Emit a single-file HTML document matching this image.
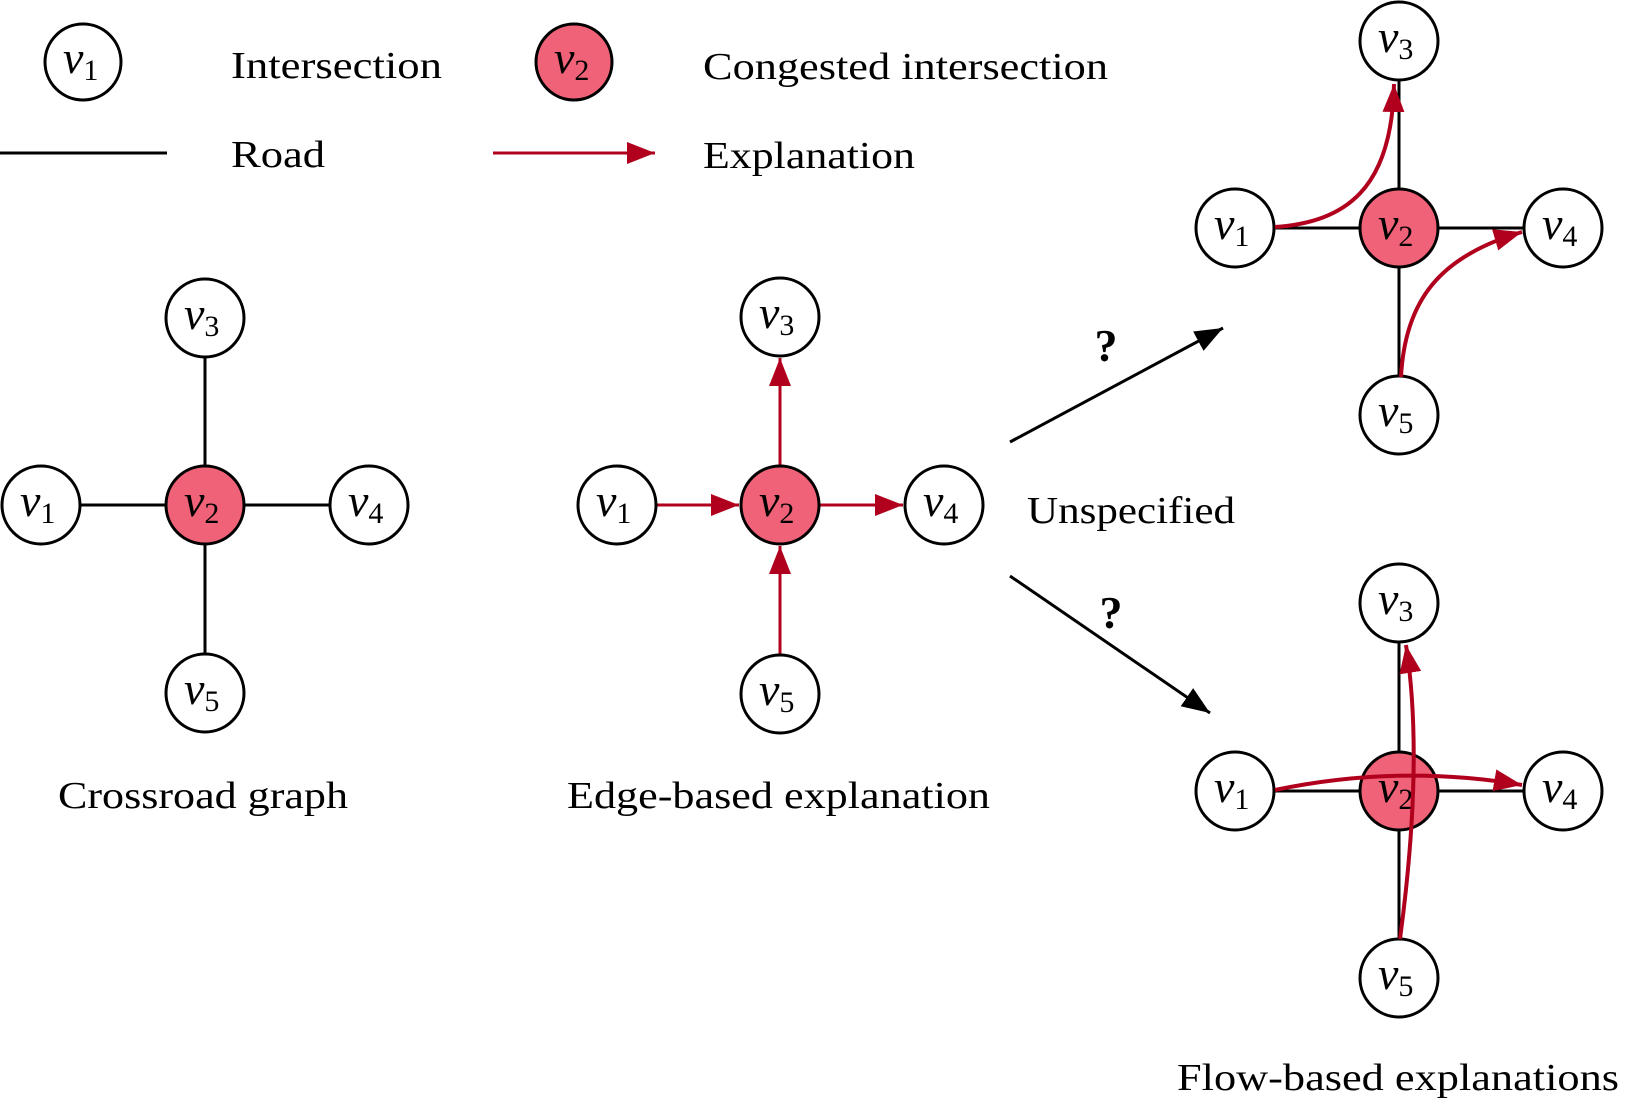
<!DOCTYPE html>
<html><head><meta charset="utf-8"><style>
html,body{margin:0;padding:0;background:#fff;}
svg{display:block;}
text{font-family:"Liberation Serif",serif;fill:#000;}
.lab{font-size:38px;}
.v{font-style:italic;font-size:46px;}
.s{font-size:30px;}
</style></head><body>
<svg width="1636" height="1116" viewBox="0 0 1636 1116" xmlns="http://www.w3.org/2000/svg">
<defs>
<marker id="ra" markerUnits="userSpaceOnUse" markerWidth="30" markerHeight="24" refX="28" refY="11" orient="auto"><path d="M0,0 L28,11 L0,22 Z" fill="#B0001E"/></marker>
<marker id="ba" markerUnits="userSpaceOnUse" markerWidth="30" markerHeight="24" refX="28" refY="11" orient="auto"><path d="M0,0 L28,11 L0,22 Z" fill="#000"/></marker>
</defs>

<!-- Legend -->
<circle cx="83" cy="62" r="38" fill="#fff" stroke="#000" stroke-width="3"/>
<text x="63" y="73"><tspan class="v">v</tspan><tspan class="s" dy="7">1</tspan></text>
<text class="lab" x="231" y="78" textLength="211" lengthAdjust="spacingAndGlyphs">Intersection</text>
<circle cx="574" cy="62" r="38" fill="#F06277" stroke="#000" stroke-width="3"/>
<text x="554" y="73"><tspan class="v">v</tspan><tspan class="s" dy="7">2</tspan></text>
<text class="lab" x="703" y="79" textLength="405" lengthAdjust="spacingAndGlyphs">Congested intersection</text>
<line x1="0" y1="153" x2="167" y2="153" stroke="#000" stroke-width="3"/>
<text class="lab" x="231" y="167" textLength="94" lengthAdjust="spacingAndGlyphs">Road</text>
<line x1="493" y1="153" x2="655" y2="153" stroke="#B0001E" stroke-width="3" marker-end="url(#ra)"/>
<text class="lab" x="703" y="168" textLength="212" lengthAdjust="spacingAndGlyphs">Explanation</text>

<!-- Crossroad graph -->
<g stroke="#000" stroke-width="3">
<line x1="205" y1="318" x2="205" y2="693"/>
<line x1="41" y1="505" x2="369" y2="505"/>
</g>
<g stroke="#000" stroke-width="3" fill="#fff">
<circle cx="205" cy="318" r="39"/><circle cx="41" cy="505" r="39"/><circle cx="205" cy="505" r="39" fill="#F06277"/><circle cx="369" cy="505" r="39"/><circle cx="205" cy="693" r="39"/>
</g>
<text x="184" y="329"><tspan class="v">v</tspan><tspan class="s" dy="7">3</tspan></text>
<text x="20" y="516"><tspan class="v">v</tspan><tspan class="s" dy="7">1</tspan></text>
<text x="184" y="516"><tspan class="v">v</tspan><tspan class="s" dy="7">2</tspan></text>
<text x="348" y="516"><tspan class="v">v</tspan><tspan class="s" dy="7">4</tspan></text>
<text x="184" y="704"><tspan class="v">v</tspan><tspan class="s" dy="7">5</tspan></text>
<text class="lab" x="58" y="808" textLength="290" lengthAdjust="spacingAndGlyphs">Crossroad graph</text>

<!-- Edge-based -->
<g stroke="#B0001E" stroke-width="3">
<line x1="656" y1="505" x2="739" y2="505" marker-end="url(#ra)"/>
<line x1="820" y1="505" x2="903" y2="505" marker-end="url(#ra)"/>
<line x1="780" y1="466" x2="780" y2="358" marker-end="url(#ra)"/>
<line x1="780" y1="655" x2="780" y2="546" marker-end="url(#ra)"/>
</g>
<g stroke="#000" stroke-width="3" fill="#fff">
<circle cx="780" cy="317" r="39"/><circle cx="617" cy="505" r="39"/><circle cx="780" cy="505" r="39" fill="#F06277"/><circle cx="944" cy="505" r="39"/><circle cx="780" cy="694" r="39"/>
</g>
<text x="759" y="328"><tspan class="v">v</tspan><tspan class="s" dy="7">3</tspan></text>
<text x="596" y="516"><tspan class="v">v</tspan><tspan class="s" dy="7">1</tspan></text>
<text x="759" y="516"><tspan class="v">v</tspan><tspan class="s" dy="7">2</tspan></text>
<text x="923" y="516"><tspan class="v">v</tspan><tspan class="s" dy="7">4</tspan></text>
<text x="759" y="705"><tspan class="v">v</tspan><tspan class="s" dy="7">5</tspan></text>
<text class="lab" x="567" y="808" textLength="423" lengthAdjust="spacingAndGlyphs">Edge-based explanation</text>

<!-- Unspecified arrows -->
<line x1="1010" y1="442" x2="1223" y2="328" stroke="#000" stroke-width="3" marker-end="url(#ba)"/>
<line x1="1010" y1="576" x2="1210" y2="713" stroke="#000" stroke-width="3" marker-end="url(#ba)"/>
<text x="1106" y="361" text-anchor="middle" style="font-size:46px;font-weight:bold">?</text>
<text x="1111" y="628" text-anchor="middle" style="font-size:46px;font-weight:bold">?</text>
<text class="lab" x="1027" y="523" textLength="208" lengthAdjust="spacingAndGlyphs">Unspecified</text>

<!-- Flow top -->
<g stroke="#000" stroke-width="3">
<line x1="1399" y1="41" x2="1399" y2="415"/>
<line x1="1235" y1="228" x2="1563" y2="228"/>
</g>
<g stroke="#000" stroke-width="3" fill="#fff">
<circle cx="1399" cy="41" r="39"/><circle cx="1235" cy="228" r="39"/><circle cx="1399" cy="228" r="39" fill="#F06277"/><circle cx="1563" cy="228" r="39"/><circle cx="1399" cy="415" r="39"/>
</g>
<g fill="none" stroke="#B0001E" stroke-width="4">
<path d="M1275,227 C1345,222 1392,190 1394,84" marker-end="url(#ra)"/>
<path d="M1401,377 C1405,300 1440,256 1522,232" marker-end="url(#ra)"/>
</g>
<text x="1378" y="52"><tspan class="v">v</tspan><tspan class="s" dy="7">3</tspan></text>
<text x="1214" y="239"><tspan class="v">v</tspan><tspan class="s" dy="7">1</tspan></text>
<text x="1378" y="239"><tspan class="v">v</tspan><tspan class="s" dy="7">2</tspan></text>
<text x="1542" y="239"><tspan class="v">v</tspan><tspan class="s" dy="7">4</tspan></text>
<text x="1378" y="426"><tspan class="v">v</tspan><tspan class="s" dy="7">5</tspan></text>

<!-- Flow bottom -->
<g stroke="#000" stroke-width="3">
<line x1="1399" y1="603" x2="1399" y2="978"/>
<line x1="1235" y1="791" x2="1563" y2="791"/>
</g>
<g stroke="#000" stroke-width="3" fill="#fff">
<circle cx="1399" cy="603" r="39"/><circle cx="1235" cy="791" r="39"/><circle cx="1399" cy="791" r="39" fill="#F06277"/><circle cx="1563" cy="791" r="39"/><circle cx="1399" cy="978" r="39"/>
</g>
<text x="1378" y="614"><tspan class="v">v</tspan><tspan class="s" dy="7">3</tspan></text>
<text x="1214" y="802"><tspan class="v">v</tspan><tspan class="s" dy="7">1</tspan></text>
<text x="1378" y="802"><tspan class="v">v</tspan><tspan class="s" dy="7">2</tspan></text>
<text x="1542" y="802"><tspan class="v">v</tspan><tspan class="s" dy="7">4</tspan></text>
<text x="1378" y="989"><tspan class="v">v</tspan><tspan class="s" dy="7">5</tspan></text>
<g fill="none" stroke="#B0001E" stroke-width="4">
<path d="M1275,790 Q1400,764 1522,785" marker-end="url(#ra)"/>
<path d="M1400,939 Q1424,760 1406,645" marker-end="url(#ra)"/>
</g>
<text class="lab" x="1177" y="1090" textLength="442" lengthAdjust="spacingAndGlyphs">Flow-based explanations</text>
</svg>
</body></html>
